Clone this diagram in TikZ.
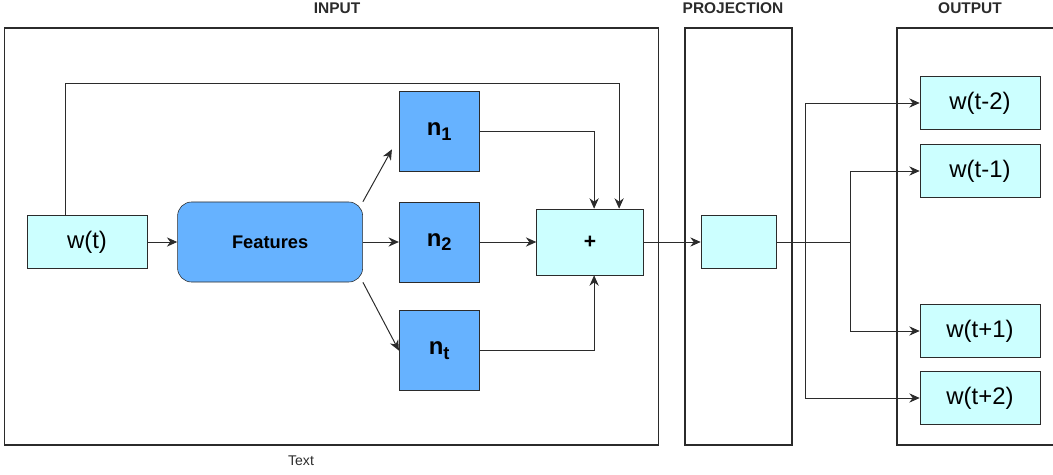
\documentclass[tikz,border=0pt]{standalone}
\usepackage{fontspec}
\setmainfont{Liberation Sans}
\usepackage{xcolor}
\definecolor{lineDark}{HTML}{2B2B2B}
\definecolor{wordColor}{HTML}{CCFFFF}
\definecolor{featColor}{HTML}{66B2FF}
\usepackage{tikz}
\usetikzlibrary{positioning,calc,arrows.meta}
\newcommand{\unitSub}[1]{\raisebox{-0.35ex}{\fontsize{13}{15}\selectfont #1}}
\tikzset{
  frameBox/.style={
    rectangle,
    draw=lineDark,
    line width=0.8pt,
    minimum height=10.425cm
 },
  headLabel/.style={
    font=\fontsize{11}{13}\selectfont\bfseries,
    text=lineDark
 },
  wordBox/.style={
    rectangle,
    draw=lineDark,
    fill=wordColor,
    minimum width=3cm,
    minimum height=1.32cm,
    font=\fontsize{17}{20}\selectfont
 },
  featBox/.style={
    rectangle,
    rounded corners=0.35cm,
    draw=lineDark,
    fill=featColor,
    minimum width=4.625cm,
    minimum height=2cm,
    font=\fontsize{13}{15}\selectfont\bfseries
 },
  unitBox/.style={
    rectangle,
    draw=lineDark,
    fill=featColor,
    minimum width=2cm,
    minimum height=2cm,
    font=\fontsize{17}{20}\selectfont\bfseries
 },
  sumBox/.style={
    rectangle,
    draw=lineDark,
    fill=wordColor,
    minimum width=2.675cm,
    minimum height=1.65cm,
    font=\fontsize{15}{17}\selectfont\bfseries
 },
  arrowLine/.style={
    -{Stealth[length=2.6mm,width=2.3mm]},
    line width=0.7pt,
    color=lineDark
 },
  plainLine/.style={
    line width=0.7pt,
    color=lineDark
 }
}

\begin{document}
\begin{tikzpicture}[x=0.025cm, y=-0.025cm]

            \useasboundingbox (0,0) rectangle (1053,474);

            % the three frames
            \node[frameBox, minimum width=16.325cm] (inFrame) at (331.5,236.5) {};
            \node[frameBox, minimum width=2.675cm] (projFrame) at (738.5,236.5) {};
            \node[frameBox, minimum width=4.075cm] (outFrame) at (978.5,236.5) {};
            \node[headLabel] (inHead) at (337,8) {INPUT};
            \node[headLabel] (projHead) at (733,8) {PROJECTION};
            \node[headLabel] (outHead) at (970,8) {OUTPUT};
            \node[font=\fontsize{10}{12}\selectfont, text=lineDark] (textLabel) at (301,461) {Text};

            % input word and features
            \node[wordBox] (wt) at (87,242) {w(t)};
            \node[featBox, right=0.75cm of wt] (feat) {Features};

            % the n units
            \node[unitBox, right=0.9cm of feat] (n2) {n\unitSub{2}};
            \node[unitBox, above=0.75cm of n2] (n1) {n\unitSub{1}};
            \node[unitBox, below=0.7cm of n2] (nt) {n\unitSub{t}};

            % sum and projection
            \node[sumBox, right=1.42cm of n2] (plus) {+};
            \node[wordBox, minimum width=1.875cm, right=1.42cm of plus] (proj) {};

            % outputs
            \node[wordBox] (outM2) at (980,103) {w(t-2)};
            \node[wordBox] (outM1) at (980,171) {w(t-1)};
            \node[wordBox] (outP1) at (980,331) {w(t+1)};
            \node[wordBox] (outP2) at (980,398) {w(t+2)};

            % connectors inside the input frame
            \draw[arrowLine] (wt) -- (feat);
            \draw[arrowLine] (feat.north east) -- ($(n1.west)+(-7,18)$);
            \draw[arrowLine] (feat) -- (n2);
            \draw[arrowLine] (feat.south east) -- (nt.west);
            \draw[arrowLine] (n2) -- (plus);
            \coordinate (skipTop) at (65,83);
            \coordinate (plusInA) at ($(plus.north)+(4,0)$);
            \coordinate (plusInB) at ($(plus.north)+(29,0)$);
            \coordinate (plusInC) at ($(plus.south)+(4,0)$);
            \draw[arrowLine] (wt.north -| skipTop) -- (skipTop) -| (plusInB);
            \draw[arrowLine] (n1) -| (plusInA);
            \draw[arrowLine] (nt) -| (plusInC);

            % projection to the outputs
            \draw[arrowLine] (plus) -- (proj);
            \coordinate (splitNear) at (805,242);
            \coordinate (splitFar) at (850,242);
            \draw[plainLine] (proj) -- (splitFar);
            \draw[arrowLine] (splitFar) |- (outM1);
            \draw[arrowLine] (splitFar) |- (outP1);
            \draw[arrowLine] (splitNear) |- (outM2);
            \draw[arrowLine] (splitNear) |- (outP2);

        \end{tikzpicture}
\end{document}
